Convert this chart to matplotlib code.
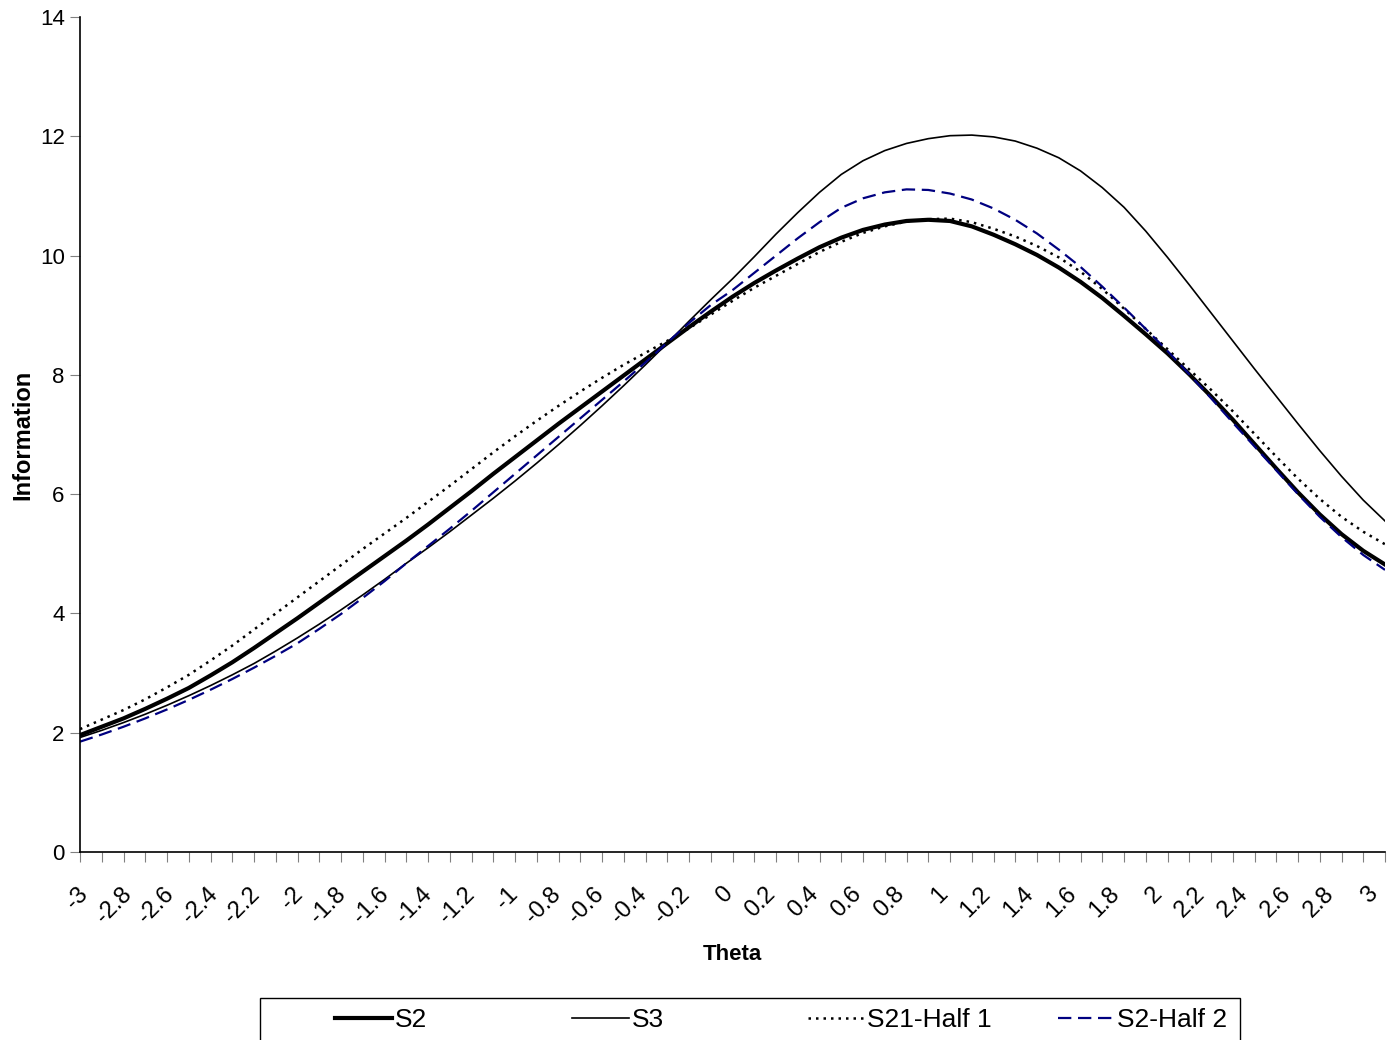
import matplotlib
matplotlib.use("Agg")
import matplotlib.pyplot as plt
import matplotlib.transforms as mtransforms
from matplotlib.patches import Rectangle
import numpy as np

plt.rcParams["font.family"] = ["Liberation Sans", "DejaVu Sans"]

# theta grid used by the chart (category axis, -3 .. 3 by 0.1)
theta = np.round(np.arange(-30, 31) / 10, 1)

s2 = [1.96, 2.10, 2.24, 2.40, 2.57, 2.75, 2.96, 3.18, 3.42, 3.67,
      3.92, 4.18, 4.44, 4.70, 4.96, 5.22, 5.49, 5.77, 6.05, 6.34,
      6.62, 6.90, 7.18, 7.45, 7.72, 7.99, 8.26, 8.53, 8.80, 9.06,
      9.31, 9.54, 9.75, 9.95, 10.14, 10.30, 10.43, 10.52, 10.58, 10.60,
      10.58, 10.49, 10.35, 10.19, 10.01, 9.80, 9.56, 9.29, 8.99, 8.68,
      8.36, 8.01, 7.64, 7.25, 6.84, 6.43, 6.03, 5.66, 5.33, 5.05, 4.82]

s3 = [1.92, 2.04, 2.17, 2.31, 2.46, 2.62, 2.79, 2.97, 3.16, 3.37,
      3.59, 3.82, 4.06, 4.31, 4.57, 4.84, 5.10, 5.37, 5.65, 5.93,
      6.22, 6.52, 6.83, 7.15, 7.48, 7.82, 8.17, 8.53, 8.90, 9.26,
      9.61, 9.98, 10.36, 10.72, 11.06, 11.36, 11.59, 11.76, 11.88, 11.96,
      12.01, 12.02, 11.99, 11.92, 11.80, 11.64, 11.42, 11.14, 10.81, 10.41,
      9.97, 9.51, 9.04, 8.57, 8.10, 7.64, 7.18, 6.73, 6.30, 5.90, 5.55]

s21_half1 = [2.06, 2.22, 2.38, 2.56, 2.76, 2.97, 3.21, 3.46, 3.73, 4.00,
             4.27, 4.54, 4.81, 5.08, 5.34, 5.60, 5.87, 6.14, 6.42, 6.70,
             6.97, 7.23, 7.48, 7.72, 7.95, 8.17, 8.37, 8.57, 8.78, 9.01,
             9.24, 9.46, 9.66, 9.86, 10.06, 10.23, 10.38, 10.49, 10.57, 10.61,
             10.62, 10.56, 10.45, 10.32, 10.16, 9.97, 9.73, 9.44, 9.11, 8.77,
             8.43, 8.09, 7.75, 7.39, 7.01, 6.63, 6.26, 5.92, 5.62, 5.37, 5.16]

s2_half2 = [1.85, 1.97, 2.10, 2.24, 2.39, 2.55, 2.72, 2.90, 3.09, 3.29,
            3.50, 3.74, 3.99, 4.26, 4.54, 4.84, 5.13, 5.42, 5.72, 6.03,
            6.34, 6.65, 6.96, 7.27, 7.58, 7.89, 8.21, 8.54, 8.87, 9.17,
            9.42, 9.71, 10.00, 10.29, 10.56, 10.80, 10.96, 11.06, 11.11, 11.10,
            11.04, 10.94, 10.79, 10.60, 10.37, 10.10, 9.81, 9.48, 9.13, 8.77,
            8.40, 8.01, 7.61, 7.20, 6.80, 6.40, 6.00, 5.62, 5.28, 4.98, 4.73]

y_ticks = [0, 2, 4, 6, 8, 10, 12, 14]
series_labels = ["S2", "S3", "S21-Half 1", "S2-Half 2"]


def tick_text(v):
    return f"{v:g}"


fig = plt.figure(figsize=(13.87, 10.40), dpi=100)
ax = fig.add_axes([80 / 1387, 188 / 1040, 1305 / 1387, 835 / 1040])

lines = []
lines += ax.plot(theta, s2, color="black", linewidth=3.0)
lines += ax.plot(theta, s3, color="black", linewidth=1.2)
lines += ax.plot(theta, s21_half1, color="black", linewidth=1.8, linestyle=(0, (1, 2)))
lines += ax.plot(theta, s2_half2, color="#000080", linewidth=1.6, linestyle=(0, (6, 3)))

ax.set_xlim(theta[0], theta[-1])
ax.set_ylim(0, 14)
ax.set_yticks(y_ticks)
ax.set_yticklabels([str(v) for v in y_ticks], fontsize=16)

ax.set_xticks(theta)
ax.set_xticklabels([tick_text(v) if i % 2 == 0 else "" for i, v in enumerate(theta)],
                   fontsize=17, rotation=45, ha="right", va="center",
                   rotation_mode="anchor")
ax.tick_params(axis="x", direction="out", length=7, color="#808080", pad=21)
ax.tick_params(axis="y", direction="out", length=7, color="#808080", pad=4)

# excel spreads the rotated labels slightly narrower than the ticks
n = len(theta) - 1
for i, lab in enumerate(ax.get_xticklabels()):
    dx = (5 - 16 * i / n) / 100
    lab.set_transform(lab.get_transform() + mtransforms.ScaledTranslation(dx, 0, fig.dpi_scale_trans))

for side in ("top", "right"):
    ax.spines[side].set_visible(False)
for side in ("left", "bottom"):
    ax.spines[side].set_color("black")
    ax.spines[side].set_linewidth(1.2)

ax.set_xlabel("Theta", fontsize=16, fontweight="bold", labelpad=12)
ax.set_ylabel("Information", fontsize=17, fontweight="bold", labelpad=4)

# legend: one entry per slot inside a box that runs off the bottom edge
fig.patches.append(Rectangle((260 / 1387, -0.05), 980 / 1387, 0.05 + 42 / 1040,
                             transform=fig.transFigure, facecolor="white",
                             edgecolor="black", linewidth=1.0))
slot_x = [335, 572, 808, 1058]
for line, label, x in zip(lines, series_labels, slot_x):
    fig.legend(handles=[line], labels=[label], loc="center left",
               bbox_to_anchor=(x / 1387, 20 / 1040), frameon=False,
               prop={"size": 19}, handlelength=2.15, handletextpad=0.1,
               borderpad=0.0, borderaxespad=0.0)

fig.savefig("out.png", dpi=100)
